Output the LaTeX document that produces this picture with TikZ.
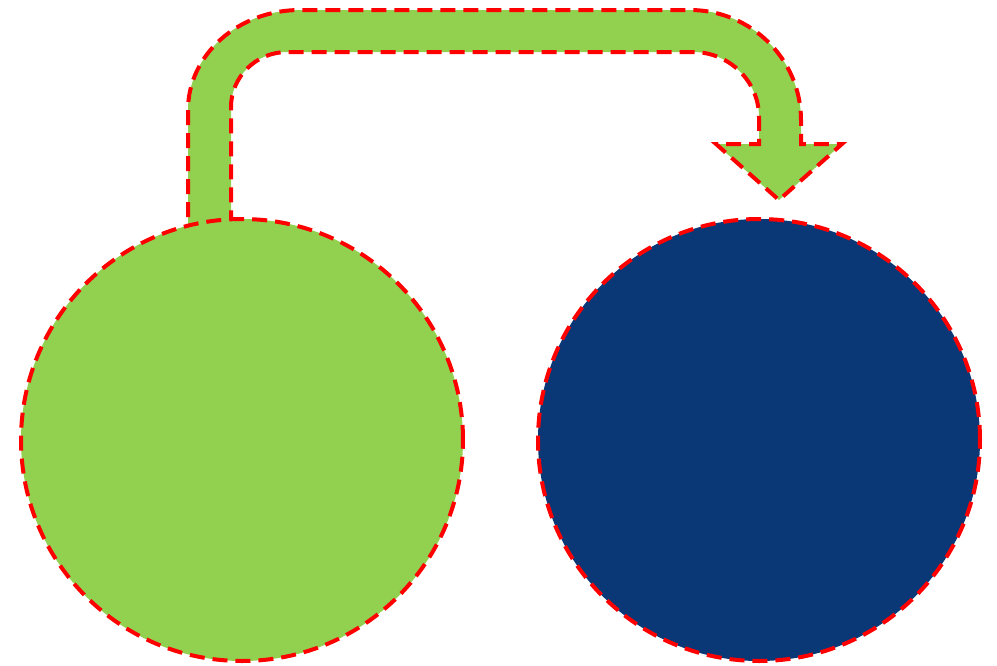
\documentclass[tikz,border=0pt]{standalone}
\definecolor{leaf}{HTML}{92D050}
\definecolor{navy}{HTML}{0A3877}
\definecolor{redline}{HTML}{FF0000}
\begin{document}
\begin{tikzpicture}[x=1pt,y=-1pt,
  dashborder/.style={draw=redline,line width=4pt,dash pattern=on 15pt off 8pt},
  bigcircle/.style={circle,minimum size=442pt,inner sep=0pt,dashborder}]
\useasboundingbox (0,0) rectangle (997,665);
% bent arrow
\path[fill=leaf,dashborder,line join=miter]
  (188,240) -- (188,110)
  .. controls (188,55) and (238,10) .. (300,10)
  -- (690,10)
  .. controls (751,10) and (801,59) .. (801,120)
  -- (801,144) -- (842,144) -- (779,200) -- (716,144) -- (759,144) -- (759,117)
  .. controls (759,81) and (729,52) .. (693,52)
  -- (287,52)
  .. controls (256,52) and (231,77) .. (231,107)
  -- (231,240) -- cycle;
\node[bigcircle,fill=leaf] (left) at (242,440) {};
\node[bigcircle,fill=navy] (right) at (759,440) {};
\end{tikzpicture}
\end{document}
